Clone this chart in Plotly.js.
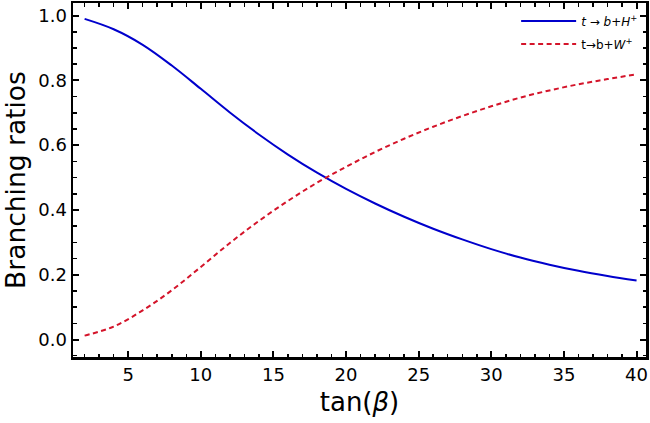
<!DOCTYPE html>
<html>
<head>
<meta charset="utf-8">
<script src="https://cdn.plot.ly/plotly-3.0.1.min.js"></script>
<style>
html, body { margin: 0; padding: 0; background: #fff; }
#chart { width: 650px; height: 423px; }
</style>
</head>
<body>
<div id="chart"></div>
<script>
// tan(beta) grid and branching ratios
var tanBeta = [2, 4, 6, 8, 10, 12, 14, 16, 18, 20, 22, 24, 26, 28, 30, 32, 34, 36, 38, 40];
var brH = [0.990, 0.958, 0.910, 0.846, 0.774, 0.701, 0.633, 0.571, 0.515, 0.465,
           0.420, 0.379, 0.342, 0.309, 0.279, 0.253, 0.231, 0.212, 0.196, 0.182];
var brW = [0.012, 0.040, 0.090, 0.152, 0.224, 0.298, 0.366, 0.428, 0.484, 0.533,
           0.579, 0.620, 0.657, 0.690, 0.720, 0.747, 0.769, 0.788, 0.804, 0.819];

var nameH = '<i>t</i> \u2192 <i>b</i>+<i>H</i><sup>+</sup>';
var nameW = 't\u2192b+<i>W</i><sup>+</sup>';

var traceH =
{
    x: tanBeta,
    y: brH,
    name: nameH,
    legendgroup: 'h',
    mode: 'lines',
    line: { color: '#0000cc', width: 2, shape: 'spline', smoothing: 1 }
};

var traceW =
{
    x: tanBeta,
    y: brW,
    name: nameW,
    legendgroup: 'w',
    mode: 'lines',
    line: { color: '#d4142a', width: 2, dash: '5px,3.5px', shape: 'spline', smoothing: 1 }
};

var axisCommon =
{
    showgrid: false,
    zeroline: false,
    showline: true,
    linecolor: 'black',
    linewidth: 2.5,
    mirror: 'allticks',
    ticks: 'inside',
    ticklen: 6,
    tickwidth: 2,
    tickcolor: 'black',
    tickfont: { family: 'DejaVu Sans', size: 18, color: 'black' }
};

var layout =
{
    width: 650,
    height: 423,
    paper_bgcolor: 'white',
    plot_bgcolor: 'white',
    showlegend: true,
    margin: { l: 73, r: 4, t: 3, b: 66 },
    font: { family: 'DejaVu Sans', color: 'black' },
    xaxis: Object.assign({}, axisCommon,
    {
        range: [1.2, 40.65],
        tick0: 0,
        dtick: 5,
        minor: { dtick: 1, ticks: 'inside', ticklen: 3.5, tickwidth: 1.5, tickcolor: 'black' },
        title: { text: 'tan(<i>\u03b2</i>)', font: { family: 'DejaVu Sans', size: 26 }, standoff: 9 }
    }),
    yaxis: Object.assign({}, axisCommon,
    {
        range: [-0.054, 1.039],
        tick0: 0,
        dtick: 0.2,
        tickformat: '.1f',
        minor: { dtick: 0.05, ticks: 'inside', ticklen: 3.5, tickwidth: 1.5, tickcolor: 'black' },
        title: { text: 'Branching ratios', font: { family: 'DejaVu Sans', size: 26.5 }, standoff: 7 }
    }),
    legend:
    {
        x: 0.995,
        xanchor: 'right',
        y: 0.99,
        yanchor: 'top',
        bgcolor: 'rgba(0,0,0,0)',
        borderwidth: 0,
        itemwidth: 55,
        font: { family: 'DejaVu Sans', size: 12, color: 'black' },
        tracegroupgap: 4
    }
};

Plotly.newPlot('chart', [traceH, traceW], layout, { staticPlot: true });
</script>
</body>
</html>
